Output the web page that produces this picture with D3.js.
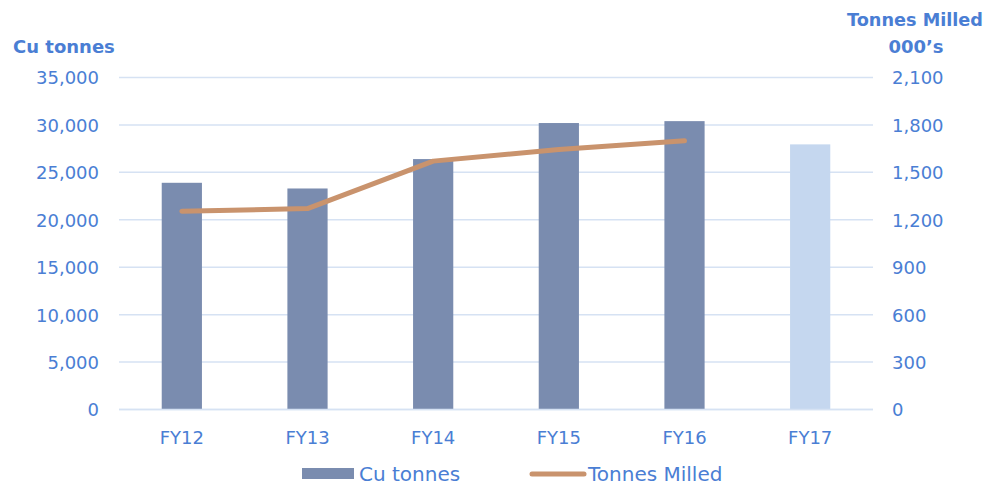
<!DOCTYPE html>
<html><head><meta charset="utf-8">
<script src="https://cdn.jsdelivr.net/npm/d3@7"></script>
<style>body{margin:0;background:#fff}svg{display:block}text{font-family:"DejaVu Sans",sans-serif}</style>
</head><body><svg id="c" width="988" height="485"></svg>
<script>
const categories = ["FY12","FY13","FY14","FY15","FY16","FY17"];
const cuTonnes = [23900, 23300, 26400, 30200, 30400, 27950];
const tonnesMilled = [1254, 1271, 1571, 1645, 1700, null];
const leftTicks = [0,5000,10000,15000,20000,25000,30000,35000];
const rightTicks = [0,300,600,900,1200,1500,1800,2100];

const TXT = "#4a7ed4", BAR = "#7a8caf", BAR_LIGHT = "#c5d7ef", LINE = "#c9936d", GRID = "#d6e2f3";
const svg = d3.select("#c");
const L = 119, R = 873, T = 77.5, B = 409.5;

const x = d3.scaleBand().domain(categories).range([L, R]).paddingInner(0.68).paddingOuter(0.34);
const yL = d3.scaleLinear().domain([0, 35000]).range([B, T]);
const yR = d3.scaleLinear().domain([0, 2100]).range([B, T]);
const fmt = d3.format(",");

svg.append("g").selectAll("line").data(leftTicks).join("line")
  .attr("x1", L).attr("x2", R).attr("y1", d => yL(d)).attr("y2", d => yL(d))
  .attr("stroke", GRID).attr("stroke-width", 1.5);

const ax = d3.axisLeft(yL).tickValues(leftTicks).tickFormat(fmt).tickSize(0).tickPadding(0);
const gL = svg.append("g").attr("transform", `translate(99,0)`).call(ax);
gL.select(".domain").remove();
gL.selectAll("text").attr("fill", TXT).style("font-size", "18px").attr("dy", "0.36em").attr("x", 0);

const axR = d3.axisRight(yR).tickValues(rightTicks).tickFormat(fmt).tickSize(0).tickPadding(0);
const gR = svg.append("g").attr("transform", `translate(892,0)`).call(axR);
gR.select(".domain").remove();
gR.selectAll("text").attr("fill", TXT).style("font-size", "18px").attr("dy", "0.36em").attr("x", 0);

svg.append("g").selectAll("rect").data(categories).join("rect")
  .attr("x", d => x(d)).attr("width", x.bandwidth())
  .attr("y", (d, i) => yL(cuTonnes[i])).attr("height", (d, i) => B - yL(cuTonnes[i]))
  .attr("fill", (d, i) => i === 5 ? BAR_LIGHT : BAR);

svg.append("line").attr("x1", L).attr("x2", R).attr("y1", B).attr("y2", B).attr("stroke", GRID).attr("stroke-width", 1.5);

const line = d3.line().defined(d => d[1] != null)
  .x(d => x(d[0]) + x.bandwidth() / 2).y(d => yR(d[1]));
svg.append("path").datum(categories.map((c, i) => [c, tonnesMilled[i]]))
  .attr("d", line).attr("fill", "none").attr("stroke", LINE).attr("stroke-width", 5)
  .attr("stroke-linecap", "round").attr("stroke-linejoin", "round");

const axB = d3.axisBottom(x).tickSize(0).tickPadding(0);
const gB = svg.append("g").attr("transform", `translate(0,444)`).call(axB);
gB.select(".domain").remove();
gB.selectAll("text").attr("fill", TXT).style("font-size", "18px").attr("dy", "0");

svg.append("text").attr("x", 13).attr("y", 53).attr("fill", TXT).style("font-size", "18px").style("font-weight", "bold").text("Cu tonnes");
svg.append("text").attr("x", 915).attr("y", 26).attr("text-anchor", "middle").attr("fill", TXT).style("font-size", "17px").style("font-weight", "bold").attr("textLength", 136).attr("lengthAdjust","spacingAndGlyphs").text("Tonnes Milled");
svg.append("text").attr("x", 916).attr("y", 53).attr("text-anchor", "middle").attr("fill", TXT).style("font-size", "18px").style("font-weight", "bold").text("000’s");

const lg = svg.append("g");
lg.append("rect").attr("x", 302).attr("y", 468).attr("width", 52).attr("height", 11).attr("fill", BAR);
lg.append("text").attr("x", 359).attr("y", 481).attr("fill", TXT).style("font-size", "20px").text("Cu tonnes");
lg.append("line").attr("x1", 532).attr("x2", 584).attr("y1", 474).attr("y2", 474).attr("stroke", LINE).attr("stroke-width", 5).attr("stroke-linecap", "round");
lg.append("text").attr("x", 588).attr("y", 481).attr("fill", TXT).style("font-size", "20px").text("Tonnes Milled");
</script></body></html>
